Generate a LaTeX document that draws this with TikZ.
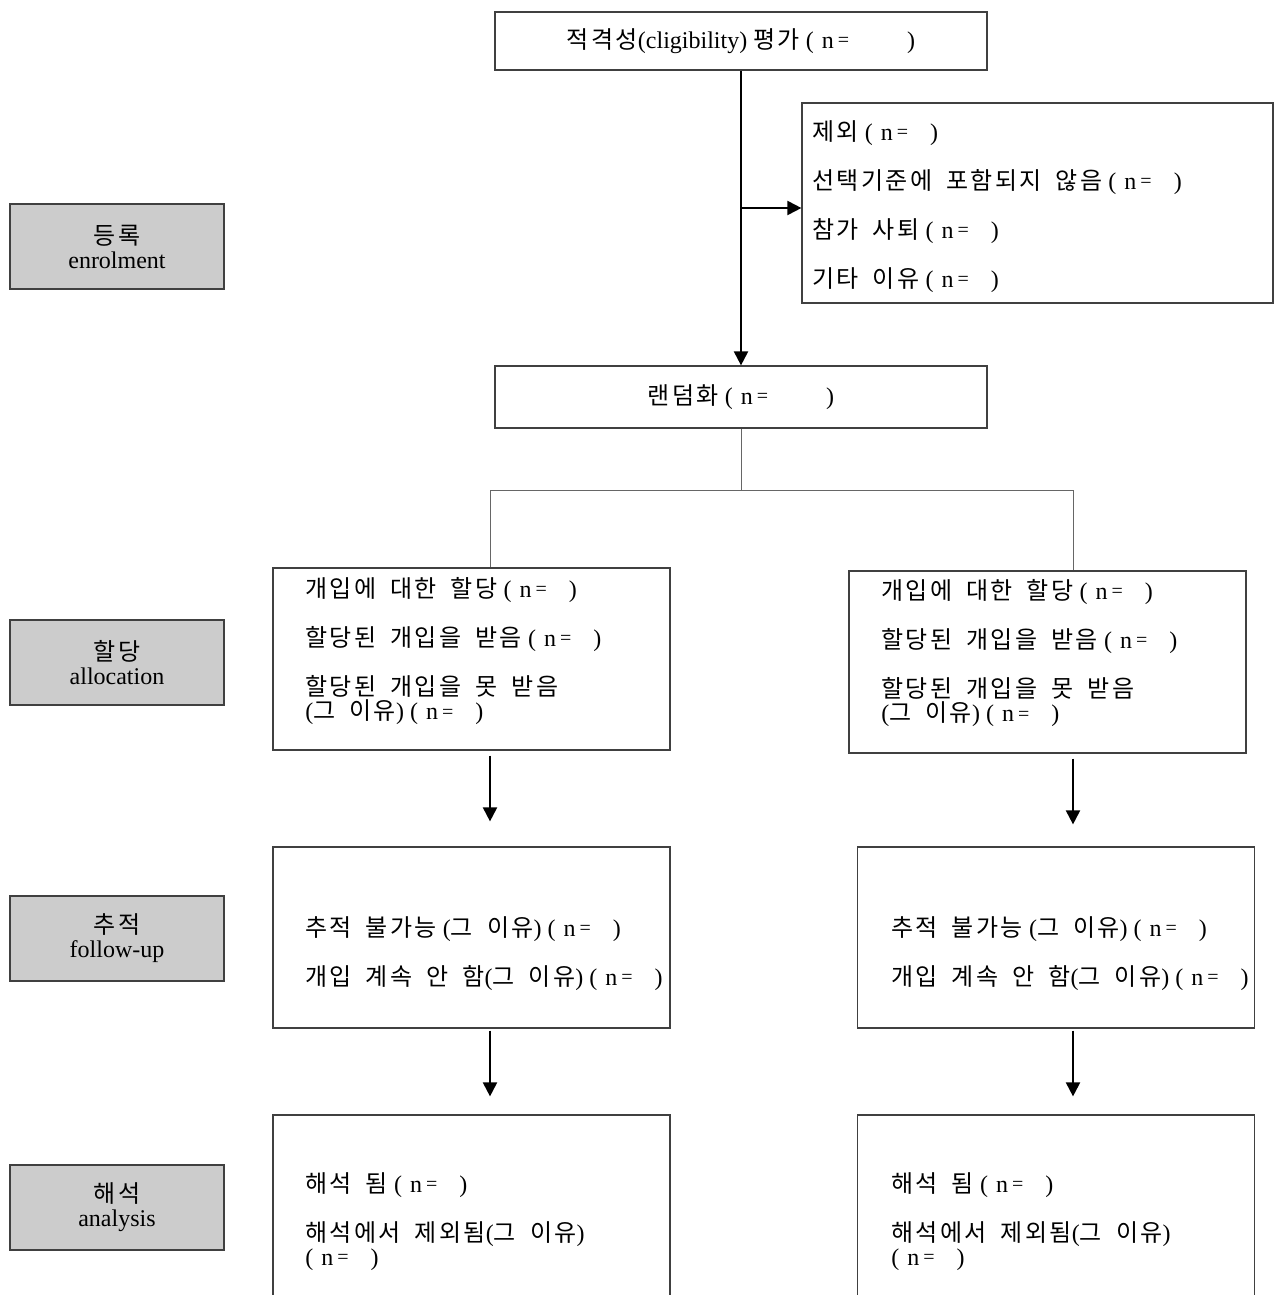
\documentclass[tikz,border=0pt]{standalone}
\usepackage{fontspec}
\setmainfont{Liberation Serif}
\newfontfamily\krfont[LetterSpace=10, WordSpace=1.8]{Noto Sans CJK KR}
\usepackage{tikz}
\usetikzlibrary{arrows.meta,positioning,calc}
\newcommand{\ko}[1]{{\krfont #1}}
\newcommand{\eqs}{\raisebox{0.15ex}{\fontsize{10}{10}\selectfont =}}
\newcommand{\ncount}{\hspace{3pt}(\hspace{4pt}n\hspace{2pt}\eqs\hspace{11pt})}
\newcommand{\nwide}{\hspace{3pt}(\hspace{4pt}n\hspace{2pt}\eqs\hspace{29pt})}

\begin{document}
\begin{tikzpicture}[x=0.5pt, y=-0.5pt,
  font=\fontsize{12}{12}\selectfont, >={Triangle[length=7pt,width=7pt]},
  box/.style={draw=black!75, line width=0.6pt, inner sep=0pt},
  wide/.style={box, minimum width=246pt},
  arm/.style={box, minimum width=198.5pt},
  stage/.style={box, fill=gray!40, align=center, minimum width=107pt, minimum height=42.5pt},
  txt/.style={inner sep=0pt, align=left, anchor=north west},
  flow/.style={->, line width=1pt},
  splitline/.style={draw=black!60, line width=0.5pt}]
\useasboundingbox (0,0) rectangle (1278,1295);
\node[wide, minimum height=29pt] (elig) at (741,41) {\ko{적격성}(cligibility) \ko{평가}\nwide};
\node[box, minimum width=235.5pt, minimum height=100pt] (excl) at (1037.5,203) {};
\node[wide, minimum height=31pt] (rand) at (741,397) {\ko{랜덤화}\nwide};
\node[arm, minimum height=91pt] (alloc1) at (471.5,659) {};
\node[arm, minimum height=91pt] (alloc2) at (1047.5,662) {};
\node[arm, minimum height=90.5pt] (fu1) at (471.5,937.5) {};
\node[arm, minimum height=90.5pt] (fu2) at (1056,937.5) {};
\node[arm, minimum height=112.5pt] (an1) at (471.5,1227.5) {};
\node[arm, minimum height=112.5pt] (an2) at (1056,1227.5) {};
\node[stage] (enrol) at (117,246.5) {\ko{등록}\\enrolment};
\node[stage] (allocl) at (117,662.5) {\ko{할당}\\allocation};
\node[stage] (ful) at (117,938.5) {\ko{추적}\\follow-up};
\node[stage] (anl) at (117,1207.5) {\ko{해석}\\analysis};
\node[txt] (excltxt) at (812,120) {\ko{제외}\ncount\\[11pt] \ko{선택기준에 포함되지 않음}\ncount\\[11pt] \ko{참가 사퇴}\ncount\\[11pt] \ko{기타 이유}\ncount};
\node[txt] (alloc1txt) at (305,577) {\ko{개입에 대한 할당}\ncount\\[11pt] \ko{할당된 개입을 받음}\ncount\\[11pt] \ko{할당된 개입을 못 받음}\\(\ko{그 이유})\ncount};
\node[txt] (alloc2txt) at (881,579) {\ko{개입에 대한 할당}\ncount\\[11pt] \ko{할당된 개입을 받음}\ncount\\[11pt] \ko{할당된 개입을 못 받음}\\(\ko{그 이유})\ncount};
\node[txt] (fu1txt) at (305,916) {\ko{추적 불가능} (\ko{그 이유})\ncount\\[11pt] \ko{개입 계속 안 함}(\ko{그 이유})\ncount};
\node[txt] (fu2txt) at (891,916) {\ko{추적 불가능} (\ko{그 이유})\ncount\\[11pt] \ko{개입 계속 안 함}(\ko{그 이유})\ncount};
\node[txt] (an1txt) at (305,1172) {\ko{해석 됨}\ncount\\[11pt] \ko{해석에서 제외됨}(\ko{그 이유})\\(\hspace{4pt}n\hspace{2pt}\eqs\hspace{11pt})};
\node[txt] (an2txt) at (891,1172) {\ko{해석 됨}\ncount\\[11pt] \ko{해석에서 제외됨}(\ko{그 이유})\\(\hspace{4pt}n\hspace{2pt}\eqs\hspace{11pt})};
\coordinate (lcol) at (490,490);
\coordinate (rcol) at (1073,490);
\draw[flow] (elig.south) -- (rand.north);
\draw[flow] (elig.south |- 0,208) -- (excl.west |- 0,208);
\draw[splitline] (rand.south) -- (rand.south |- lcol);
\draw[splitline] (lcol) -- (rcol);
\draw[splitline] (lcol) -- (lcol |- alloc1.north);
\draw[splitline] (rcol) -- (rcol |- alloc2.north);
\draw[flow, shorten <=2.5pt, shorten >=12.5pt] (lcol |- alloc1.south) -- (lcol |- fu1.north);
\draw[flow, shorten <=2.5pt, shorten >=11pt] (rcol |- alloc2.south) -- (rcol |- fu2.north);
\draw[flow, shorten <=1pt, shorten >=9pt] (lcol |- fu1.south) -- (lcol |- an1.north);
\draw[flow, shorten <=1pt, shorten >=9pt] (rcol |- fu2.south) -- (rcol |- an2.north);
\end{tikzpicture}
\end{document}
